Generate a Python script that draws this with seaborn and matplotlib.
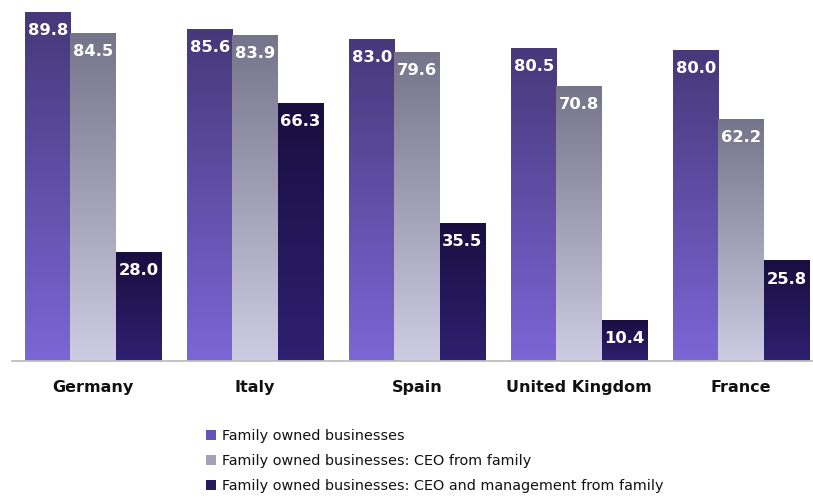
import numpy as np
import pandas as pd
import matplotlib
matplotlib.use("Agg")
import matplotlib.pyplot as plt
import seaborn as sns
from matplotlib.colors import LinearSegmentedColormap
from matplotlib.patches import Patch

countries = ["Germany", "Italy", "Spain", "United Kingdom", "France"]
series = [
    "Family owned businesses",
    "Family owned businesses: CEO from family",
    "Family owned businesses: CEO and management from family",
]
family_owned = [89.8, 85.6, 83.0, 80.5, 80.0]
ceo_family = [84.5, 83.9, 79.6, 70.8, 62.2]
ceo_mgmt_family = [28.0, 66.3, 35.5, 10.4, 25.8]

# gradient colours (bottom, top) per series, and a mid colour for legend
grad = [("#7c66d6", "#463879"), ("#cdcce2", "#75748a"), ("#2f2070", "#190e40")]
mid = ["#6653b8", "#a2a1b8", "#261a5c"]

rows = []
for s, vals in zip(series, [family_owned, ceo_family, ceo_mgmt_family]):
    for c, v in zip(countries, vals):
        rows.append({"country": c, "series": s, "value": v})
df = pd.DataFrame(rows)

sns.set_theme(style="white")
plt.rcParams["font.family"] = ["DejaVu Sans"]

fig = plt.figure(figsize=(8.13, 4.98), dpi=100)
ax = fig.add_axes([12 / 813, 137 / 498, 810 / 813, 349 / 498])

sns.barplot(data=df, x="country", y="value", hue="series", hue_order=series,
            order=countries, palette=mid, width=0.84, saturation=1,
            ax=ax, legend=False)

grad_arr = np.linspace(0, 1, 256).reshape(-1, 1)
for i, cont in enumerate(ax.containers):
    cmap = LinearSegmentedColormap.from_list(f"g{i}", [grad[i][0], grad[i][1]])
    for p in cont.patches:
        x, w, h = p.get_x(), p.get_width(), p.get_height()
        p.set_visible(False)
        ax.imshow(grad_arr, cmap=cmap, origin="lower", aspect="auto",
                  extent=[x, x + w, 0, h], zorder=2, interpolation="bilinear")
        ax.annotate(f"{h:.1f}", (x + w / 2, h), xytext=(0, -13),
                    textcoords="offset points", ha="center", va="center",
                    color="white", fontweight="bold", fontsize=11.8, zorder=3)

ax.set_xlim(-0.5, 4.5)
ax.set_ylim(0, 90)
ax.set_yticks([])
ax.set_xlabel("")
ax.set_ylabel("")
for s in ["left", "top", "right"]:
    ax.spines[s].set_visible(False)
ax.spines["bottom"].set_color("#bdbdbd")
ax.spines["bottom"].set_linewidth(1.3)
ax.tick_params(axis="x", length=0, pad=13.5)
for t in ax.get_xticklabels():
    t.set_fontweight("bold")
    t.set_fontsize(11.5)
    t.set_color("#111111")

handles = [Patch(facecolor=mid[i], edgecolor="none") for i in range(3)]
fig.legend(handles, series, loc="upper left",
           bbox_to_anchor=(200 / 813, 1 - 423 / 498), frameon=False,
           fontsize=10.4, handlelength=0.7, handleheight=0.7,
           handletextpad=0.4, labelspacing=0.78, borderaxespad=0,
           labelcolor="#111111")

fig.savefig("out.png", dpi=100)
